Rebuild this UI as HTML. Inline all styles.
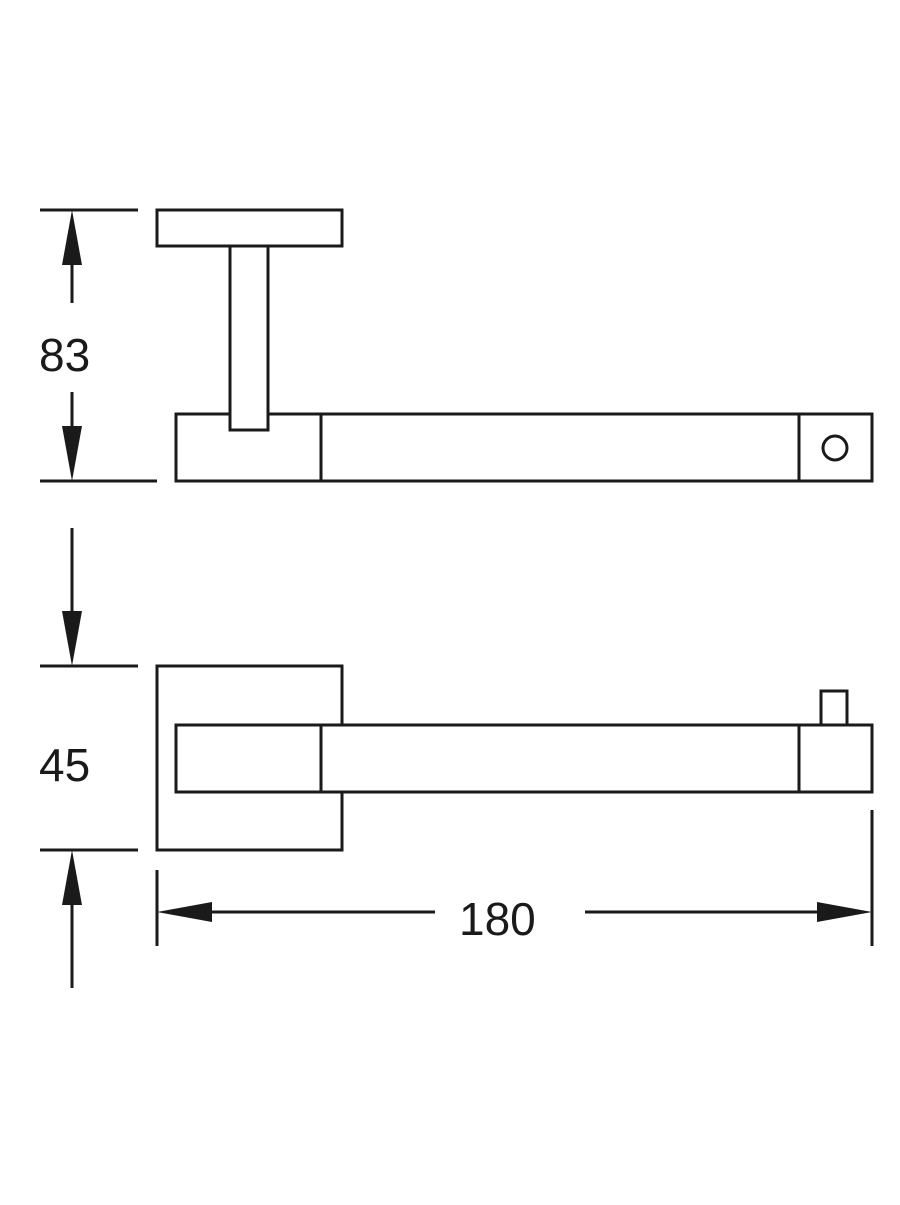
<!DOCTYPE html>
<html><head><meta charset="utf-8"><style>html,body{margin:0;padding:0;background:#fff}</style></head>
<body>
<svg width="900" height="1200" viewBox="0 0 900 1200" xmlns="http://www.w3.org/2000/svg">
<g fill="none" stroke="#1a1a1a" stroke-width="3">
<line x1="40" y1="210" x2="138" y2="210"/>
<line x1="40" y1="481" x2="157" y2="481"/>
<line x1="72" y1="240" x2="72" y2="303"/>
<line x1="72" y1="392" x2="72" y2="450"/>
<rect x="157" y="210" width="185" height="36" fill="#fff"/>
<rect x="176" y="414" width="696" height="67" fill="#fff"/>
<rect x="230" y="246" width="38" height="184" fill="#fff"/>
<line x1="321" y1="414" x2="321" y2="481"/>
<line x1="799" y1="414" x2="799" y2="481"/>
<circle cx="835" cy="448" r="12"/>
<line x1="40" y1="666" x2="138" y2="666"/>
<line x1="40" y1="850" x2="138" y2="850"/>
<line x1="72" y1="528" x2="72" y2="630"/>
<line x1="72" y1="885" x2="72" y2="988"/>
<rect x="157" y="666" width="185" height="184" fill="#fff"/>
<rect x="821" y="691" width="26" height="38" fill="#fff"/>
<rect x="176" y="725" width="696" height="67" fill="#fff"/>
<line x1="321" y1="725" x2="321" y2="792"/>
<line x1="799" y1="725" x2="799" y2="792"/>
<line x1="157" y1="870" x2="157" y2="946"/>
<line x1="872" y1="810" x2="872" y2="946"/>
<line x1="190" y1="912" x2="435" y2="912"/>
<line x1="585" y1="912" x2="840" y2="912"/>
</g>
<g fill="#1a1a1a">
<polygon points="72,210 62,265 82,265"/>
<polygon points="72,481 62,426 82,426"/>
<polygon points="72,666 62,611 82,611"/>
<polygon points="72,850 62,905 82,905"/>
<polygon points="157,912 212,902 212,922"/>
<polygon points="872,912 817,902 817,922"/>
</g>
<g font-family="Liberation Sans, Arial, sans-serif" font-size="46" fill="#1a1a1a">
<text x="39" y="371">83</text>
<text x="39" y="781">45</text>
<text x="459" y="935">180</text>
</g>
</svg>
</body></html>
